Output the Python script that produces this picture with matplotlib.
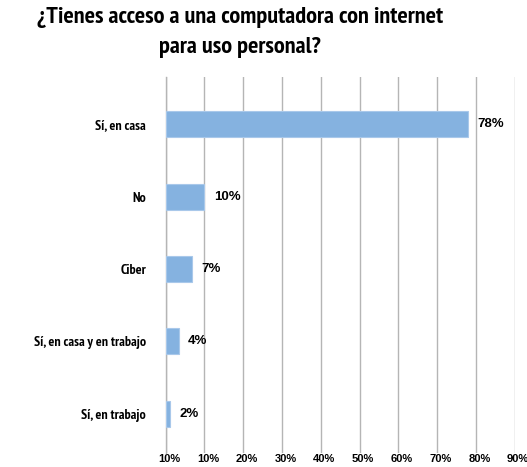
import numpy as np
from matplotlib import pyplot as plt
from matplotlib import font_manager as fm
import matplotlib.transforms as mtrans

categorias = ["Sí, en casa", "No", "Ciber", "Sí, en casa y en trabajo", "Sí, en trabajo"]
valores = [78, 10, 6.7, 3.4, 1.2]
etiquetas = ["78%", "10%", "7%", "4%", "2%"]
ticks = [0, 10, 20, 30, 40, 50, 60, 70, 80, 90]
tick_labels = ["10%", "10%", "20%", "30%", "40%", "50%", "60%", "70%", "80%", "90%"]

# buscar una fuente angosta en negrita (preferir Narrow)
cond = None
for clave in ("Narrow", "Condensed"):
    for f in fm.fontManager.ttflist:
        n = f.name + " " + f.fname
        if clave in n and f.weight in ("bold", 700, "heavy") and f.style == "normal":
            cond = f.fname
            break
    if cond:
        break
if cond:
    fp_cond = fm.FontProperties(fname=cond)
else:
    fp_cond = fm.FontProperties(family="DejaVu Sans", weight="bold", stretch="condensed")

normal = ["Liberation Sans", "DejaVu Sans"]

fig = plt.figure(figsize=(5.27, 4.67), dpi=100)
ax = fig.add_axes([0.3144, 0.030, 0.662, 0.805])

y = np.arange(len(categorias))
ax.barh(y, valores, height=0.36, color="#85b2e0", edgecolor="#a9c8ea",
        linewidth=0.8, zorder=3)

for yi, v, t in zip(y, valores, etiquetas):
    ax.text(v + 2.4, yi, t, va="center", ha="left", fontsize=9.5,
            fontweight="bold", family=normal)

ax.set_xlim(0, 90)
ax.set_ylim(4.54, -0.65)
ax.set_yticks(y)
ax.set_yticklabels(categorias)
for lbl in ax.get_yticklabels():
    lbl.set_fontproperties(fp_cond)
    lbl.set_fontsize(10)
ax.tick_params(axis="y", length=0, pad=14)
ax.set_xticks(ticks)
ax.set_xticklabels(tick_labels, fontsize=8, fontweight="bold", family=normal)
ax.tick_params(axis="x", length=0, pad=1)
off = mtrans.ScaledTranslation(2.5 / 72, 0, fig.dpi_scale_trans)
for lbl in ax.get_xticklabels():
    lbl.set_transform(lbl.get_transform() + off)

ax.grid(axis="x", color="#b5b5b5", linewidth=1, zorder=0)
for s in ["top", "right", "bottom"]:
    ax.spines[s].set_visible(False)
ax.spines["left"].set_color("#b5b5b5")
ax.spines["left"].set_linewidth(1)

fig.text(0.456, 0.962, "¿Tienes acceso a una computadora con internet",
         ha="center", va="center", fontproperties=fp_cond, fontsize=17.5)
fig.text(0.456, 0.898, "para uso personal?",
         ha="center", va="center", fontproperties=fp_cond, fontsize=17.5)

fig.savefig("out.png", dpi=100)
